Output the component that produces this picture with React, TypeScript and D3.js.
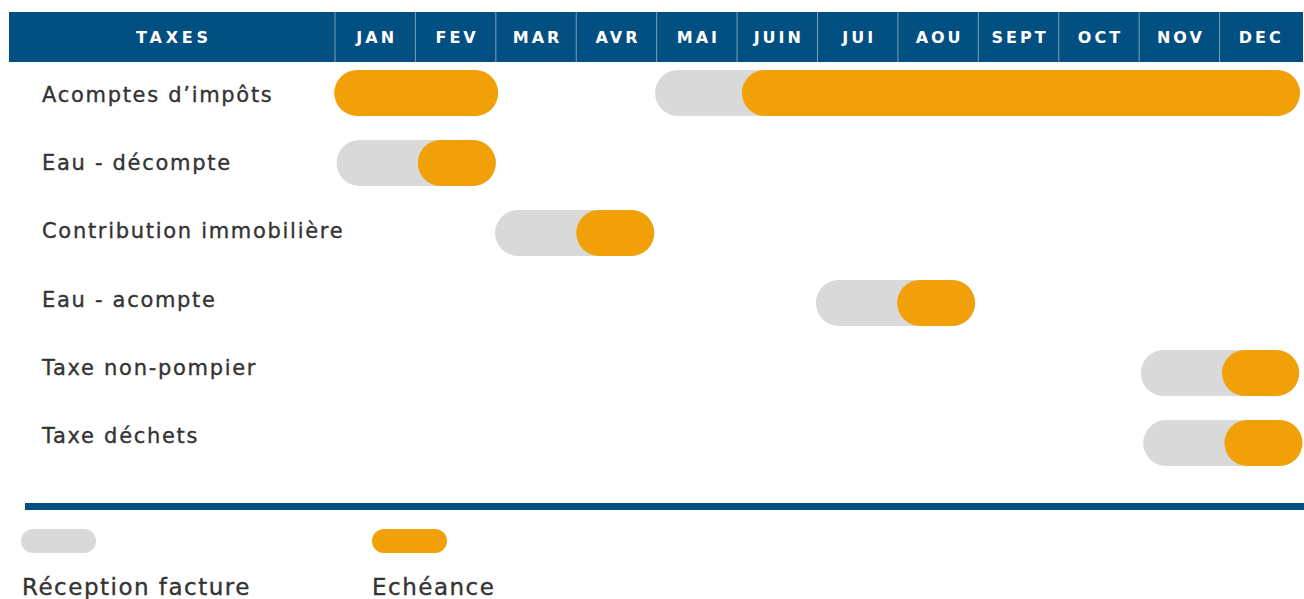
import React from "react";
import * as d3 from "d3";

const months = ["JAN", "FEV", "MAR", "AVR", "MAI", "JUIN", "JUI", "AOU", "SEPT", "OCT", "NOV", "DEC"];
const taxes = [
  "Acomptes d’impôts",
  "Eau - décompte",
  "Contribution immobilière",
  "Eau - acompte",
  "Taxe non-pompier",
  "Taxe déchets",
];
// month positions (0 = start of JAN, 12 = end of DEC); null = no segment
const receptionStart: (number | null)[] = [3.98, 0.02, 1.99, 5.98, 10.02, 10.05];
const echeanceStart = [5.06, 1.03, 3.0, 6.99, 11.03, 11.06];
const echeanceEnd = [12.0, 2.0, 3.97, 7.96, 11.99, 12.03];
// extra échéance-only segments: [row, start, end]
const extraEcheance: [number, number, number][] = [[0, -0.01, 2.03]];
const legendLabels = ["Réception facture", "Echéance"];

const W = 1304;
const H = 599;
const BLUE = "#024f81";
const GRAY = "#d9d9d9";
const ORANGE = "#f2a007";
const BAR_H = 46;

export default function App() {
  const x = d3.scaleLinear().domain([0, 12]).range([335, 1300]);
  const y = d3.scaleLinear().domain([0, taxes.length - 1]).range([93, 443]);
  const labelY = d3.scaleLinear().domain([0, taxes.length - 1]).range([95, 436]);
  const pill = (x0: number, x1: number, cy: number, fill: string, key: string) => (
    <rect key={key} x={x(x0)} y={cy - BAR_H / 2} width={x(x1) - x(x0)} height={BAR_H} rx={BAR_H / 2} ry={BAR_H / 2} fill={fill} />
  );
  const font = "'DejaVu Sans', sans-serif";
  const textColor = "#333333";
  return (
    <svg width={W} height={H} style={{ position: "absolute", left: 0, top: 0, display: "block" }} fontFamily={font}>
      <rect x={0} y={0} width={W} height={H} fill="#ffffff" />
      {/* header */}
      <rect x={9} y={12} width={1294} height={50} fill={BLUE} />
      <line x1={x(0)} x2={x(0)} y1={12} y2={62} stroke="#7f9db5" strokeWidth={1} />
      {months.map((m, i) => (
        <g key={m}>
          {i > 0 && <line x1={x(i)} x2={x(i)} y1={12} y2={62} stroke="#7f9db5" strokeWidth={1} />}
          <text x={x(i + 0.5) + 1.5} y={43} textAnchor="middle" fill="#ffffff" fontSize={16} fontWeight="bold" letterSpacing={3}>{m}</text>
        </g>
      ))}
      <text x={174} y={43} textAnchor="middle" fill="#ffffff" fontSize={16} fontWeight="bold" letterSpacing={3.8}>TAXES</text>
      {/* rows */}
      {taxes.map((t, i) => (
        <g key={t}>
          <text x={42} y={labelY(i)} dominantBaseline="central" fontSize={21} letterSpacing={1.7} fill={textColor} stroke={textColor} strokeWidth={0.35}>{t}</text>
          {receptionStart[i] !== null && pill(receptionStart[i] as number, echeanceEnd[i], y(i), GRAY, "g" + i)}
          {pill(echeanceStart[i], echeanceEnd[i], y(i), ORANGE, "o" + i)}
        </g>
      ))}
      {extraEcheance.map(([r, s, e], k) => pill(s, e, y(r), ORANGE, "x" + k))}
      {/* bottom rule */}
      <rect x={25} y={503} width={1279} height={7} fill={BLUE} />
      {/* legend */}
      <rect x={21} y={529} width={75} height={24} rx={12} fill={GRAY} />
      <rect x={372} y={529} width={75} height={24} rx={12} fill={ORANGE} />
      <text x={22} y={595} fontSize={23} letterSpacing={1.5} fill={textColor} stroke={textColor} strokeWidth={0.35}>{legendLabels[0]}</text>
      <text x={372} y={595} fontSize={23} letterSpacing={1.5} fill={textColor} stroke={textColor} strokeWidth={0.35}>{legendLabels[1]}</text>
    </svg>
  );
}
